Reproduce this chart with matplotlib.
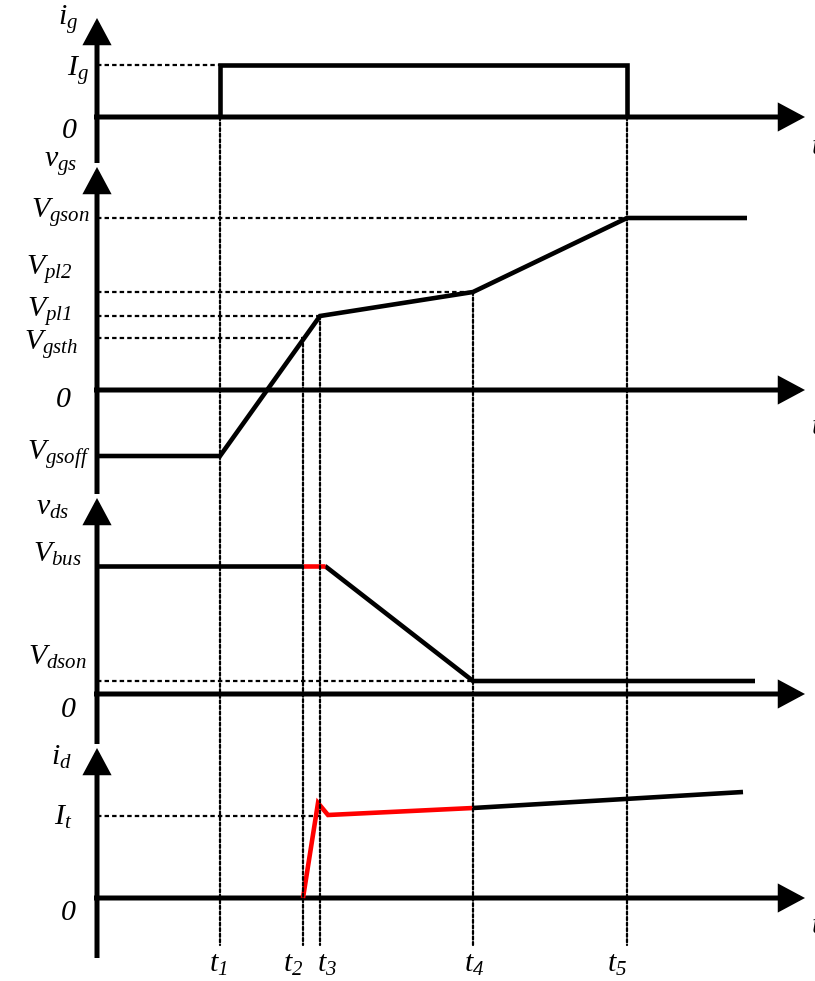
import matplotlib
matplotlib.use("Agg")
import matplotlib.pyplot as plt
from matplotlib.patches import FancyArrowPatch, ConnectionPatch, ArrowStyle

plt.rcParams['mathtext.fontset'] = 'custom'
plt.rcParams['mathtext.it'] = 'Liberation Serif:italic'
plt.rcParams['mathtext.rm'] = 'Liberation Serif:italic'
plt.rcParams['mathtext.default'] = 'it'
plt.rcParams['font.family'] = ['Liberation Serif', 'DejaVu Serif']

# ---------------- data (schematic units) ----------------
# switching instants
t_names = [r'$t_{1}$', r'$t_{2}$', r'$t_{3}$', r'$t_{4}$', r'$t_{5}$']
t1, t2, t3, t4, t5 = 1.23, 2.06, 2.23, 3.76, 5.30
t_axis_end = 7.08

# gate current
Ig = 0.52
ig_t = [t1, t1, t5, t5]
ig_v = [0.0, Ig, Ig, 0.0]

# gate-source voltage
Vgson, Vpl2, Vpl1, Vgsth, Vgsoff = 1.72, 0.98, 0.74, 0.52, -0.66
vgs_t = [0.0, t1, t3, t4, t5, 6.50]
vgs_v = [Vgsoff, Vgsoff, Vpl1, Vpl2, Vgson, Vgson]

# drain-source voltage
Vbus, Vdson = 1.28, 0.13
vds_black1_t = [0.0, t2]
vds_black1_v = [Vbus, Vbus]
vds_red_t = [t2, 2.28]
vds_red_v = [Vbus, Vbus]
vds_black2_t = [2.28, t4, 6.58]
vds_black2_v = [Vbus, Vdson, Vdson]

# drain current
It = 0.82
id_red_t = [t2, 2.21, 2.31, t4]
id_red_v = [0.0, 0.95, 0.83, 0.90]
id_black_t = [t4, 6.46]
id_black_v = [0.90, 1.06]

# ---------------- figure ----------------
W, H = 815, 981
fig = plt.figure(figsize=(W / 100, H / 100), dpi=100)
fig.patch.set_facecolor('white')

PX = 100.0  # pixels per schematic unit
x_origin = 97
zero_px = {'ig': 117, 'vgs': 390, 'vds': 694, 'id': 898}
axes = {}
for k, y0 in zero_px.items():
    a = fig.add_axes([0, 0, 1, 1])
    a.set_xlim(-x_origin / PX, (W - x_origin) / PX)
    a.set_ylim((y0 - H) / PX, y0 / PX)
    a.axis('off')
    a.patch.set_alpha(0)
    axes[k] = a

LW_AX = 3.6
LW_SIG = 3.3
DASH = dict(color='black', lw=1.6, linestyle=(0, (2.0, 1.4)))
RED = '#ff0000'

def arrow(ax, p0, p1):
    st = ArrowStyle('-|>', head_length=14, head_width=7.5)
    ar = FancyArrowPatch(p0, p1, arrowstyle=st, mutation_scale=1, lw=LW_AX,
                         color='black', shrinkA=0, shrinkB=0, joinstyle='miter',
                         capstyle='butt')
    ax.add_patch(ar)

# axis extents (tip, bottom) per panel
v_extent = {'ig': (0.99, -0.46), 'vgs': (2.23, -1.04), 'vds': (1.96, -0.50), 'id': (1.50, -0.60)}
for k, a in axes.items():
    tip, bot = v_extent[k]
    arrow(a, (0, bot), (0, tip))
    arrow(a, (-0.03, 0), (t_axis_end, 0))

# horizontal reference dashes
def hdash(ax, level, t_end):
    ax.plot([0, t_end], [level, level], **DASH)

hdash(axes['ig'], Ig, t1)
hdash(axes['vgs'], Vgson, t5)
hdash(axes['vgs'], Vpl2, t4)
hdash(axes['vgs'], Vpl1, t3)
hdash(axes['vgs'], Vgsth, t2)
hdash(axes['vds'], Vdson, t4)
hdash(axes['id'], It, t3)

# vertical dashes (start in a panel, end near the time labels)
v_bottom = -0.47
v_starts = [(t1, 'ig', 0.0), (t2, 'vgs', Vgsth), (t3, 'vgs', Vpl1), (t4, 'vgs', Vpl2), (t5, 'ig', 0.0)]
for tt, pk, lvl in v_starts:
    cp = ConnectionPatch(xyA=(tt, lvl), coordsA=axes[pk].transData,
                         xyB=(tt, v_bottom), coordsB=axes['id'].transData,
                         color='black', lw=1.6, linestyle=(0, (1.4, 1.1)))
    fig.add_artist(cp)

# waveforms
sig = dict(lw=LW_SIG, solid_joinstyle='miter', solid_capstyle='butt')
axes['ig'].plot(ig_t, ig_v, color='black', **sig)
axes['vgs'].plot(vgs_t, vgs_v, color='black', **sig)
axes['vds'].plot(vds_black1_t, vds_black1_v, color='black', **sig)
axes['vds'].plot(vds_black2_t, vds_black2_v, color='black', **sig)
axes['vds'].plot(vds_red_t, vds_red_v, color=RED, **sig)
axes['id'].plot(id_black_t, id_black_v, color='black', **sig)
axes['id'].plot(id_red_t, id_red_v, color=RED, **sig)

# labels (text, right edge px, baseline px)
FS = 21.5
labels = [
    (r'$i_{g}$', 78, 25), (r'$I_{g}$', 89, 76), (r'$0$', 78, 138),
    (r'$v_{gs}$', 77, 167), (r'$V_{gson}$', 90, 218), (r'$V_{pl2}$', 72, 275),
    (r'$V_{pl1}$', 72, 317), (r'$V_{gsth}$', 78, 350), (r'$0$', 72, 407),
    (r'$V_{gsoff}$', 90, 460),
    (r'$v_{ds}$', 69, 515), (r'$V_{bus}$', 82, 562), (r'$V_{dson}$', 87, 665),
    (r'$0$', 77, 717),
    (r'$i_{d}$', 72, 765), (r'$I_{t}$', 72, 825), (r'$0$', 77, 920),
]
for s, xr, yb in labels:
    fig.text(xr / W, 1 - yb / H, s, ha='right', va='baseline', fontsize=FS)

t_label_x = [218, 293, 327, 474, 617]
for s, xc in zip(t_names, t_label_x):
    fig.text(xc / W, 1 - 972 / H, s, ha='center', va='baseline', fontsize=FS)

for yb in [154, 434, 933]:
    fig.text(811 / W, 1 - yb / H, r'$t$', ha='left', va='baseline', fontsize=FS)

fig.savefig('out.png', dpi=100, facecolor='white')
